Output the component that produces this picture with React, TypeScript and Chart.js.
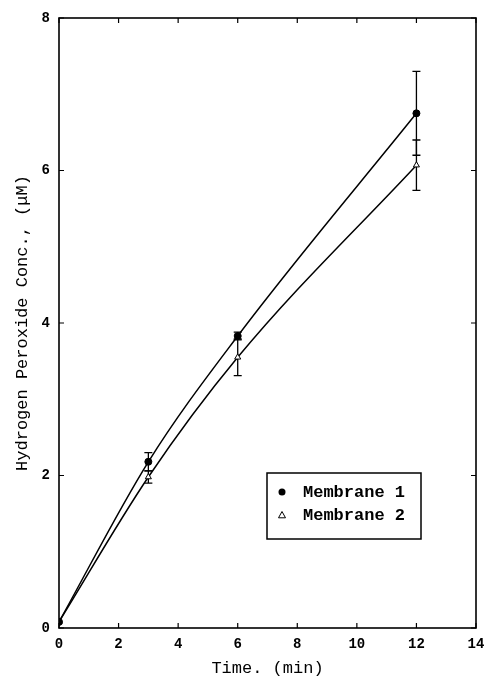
import React, { useEffect, useRef } from "react";
import { Chart, registerables } from "chart.js";

Chart.register(...registerables);

const timeMin = [0, 3, 6, 12];
const membrane1 = [0.08, 2.18, 3.83, 6.75];
const membrane1Err = [0, 0.12, 0.05, 0.55];
const membrane2 = [0.08, 1.98, 3.55, 6.07];
const membrane2Err = [0, 0.08, 0.24, 0.33];
const seriesLabels = ["Membrane 1", "Membrane 2"];
const xTitle = "Time. (min)";
const yTitle = "Hydrogen Peroxide Conc., (\u03BCM)";

const MONO = "'Liberation Mono', 'DejaVu Sans Mono', monospace";

const errorBarPlugin = {
  id: "errorBars",
  beforeDatasetsDraw(chart: any) {
    const ctx = chart.ctx;
    const xs = chart.scales.x;
    const ys = chart.scales.y;
    ctx.save();
    ctx.strokeStyle = "#000";
    ctx.lineWidth = 1.3;
    chart.data.datasets.forEach((ds: any) => {
      const errs: number[] = ds.errors || [];
      ds.data.forEach((p: any, i: number) => {
        const e = errs[i];
        if (!e) return;
        const px = xs.getPixelForValue(p.x);
        const y1 = ys.getPixelForValue(p.y + e);
        const y2 = ys.getPixelForValue(p.y - e);
        ctx.beginPath();
        ctx.moveTo(px, y1);
        ctx.lineTo(px, y2);
        ctx.moveTo(px - 4, y1);
        ctx.lineTo(px + 4, y1);
        ctx.moveTo(px - 4, y2);
        ctx.lineTo(px + 4, y2);
        ctx.stroke();
      });
    });
    ctx.restore();
  },
};

const frameTicksPlugin = {
  id: "frameTicks",
  afterDraw(chart: any) {
    const ctx = chart.ctx;
    const { left, right, top, bottom } = chart.chartArea;
    const xs = chart.scales.x;
    const ys = chart.scales.y;
    ctx.save();
    ctx.strokeStyle = "#000";
    ctx.lineWidth = 1.6;
    ctx.strokeRect(left, top, right - left, bottom - top);
    ctx.lineWidth = 1.2;
    const tl = 5;
    ys.ticks.forEach((t: any) => {
      const py = ys.getPixelForValue(t.value);
      ctx.beginPath();
      ctx.moveTo(left, py);
      ctx.lineTo(left + tl, py);
      ctx.moveTo(right, py);
      ctx.lineTo(right - tl, py);
      ctx.stroke();
    });
    xs.ticks.forEach((t: any) => {
      const px = xs.getPixelForValue(t.value);
      ctx.beginPath();
      ctx.moveTo(px, bottom);
      ctx.lineTo(px, bottom - tl);
      ctx.moveTo(px, top);
      ctx.lineTo(px, top + tl);
      ctx.stroke();
    });
    ctx.restore();
  },
};

const legendBoxPlugin = {
  id: "legendBox",
  afterDraw(chart: any) {
    const ctx = chart.ctx;
    const bx = 267;
    const by = 473;
    const bw = 154;
    const bh = 66;
    ctx.save();
    ctx.fillStyle = "#fff";
    ctx.fillRect(bx, by, bw, bh);
    ctx.strokeStyle = "#000";
    ctx.lineWidth = 1.5;
    ctx.strokeRect(bx, by, bw, bh);
    ctx.font = `bold 17px ${MONO}`;
    ctx.textBaseline = "middle";
    ctx.textAlign = "left";
    chart.data.datasets.forEach((ds: any, i: number) => {
      const cy = by + 19 + i * 23;
      const mx = bx + 15;
      ctx.lineWidth = 1;
      if (ds.pointStyle === "triangle") {
        const r = 3.5;
        ctx.beginPath();
        ctx.moveTo(mx, cy - r);
        ctx.lineTo(mx + r, cy + r * 0.8);
        ctx.lineTo(mx - r, cy + r * 0.8);
        ctx.closePath();
        ctx.fillStyle = "#fff";
        ctx.fill();
        ctx.stroke();
      } else {
        ctx.beginPath();
        ctx.arc(mx, cy, 3.5, 0, Math.PI * 2);
        ctx.fillStyle = "#000";
        ctx.fill();
      }
      ctx.fillStyle = "#000";
      ctx.fillText(ds.label, bx + 36, cy + 1);
    });
    ctx.restore();
  },
};

export default function App() {
  const canvasRef = useRef<HTMLCanvasElement | null>(null);

  useEffect(() => {
    const canvas = canvasRef.current;
    if (!canvas) return;
    const chart = new Chart(canvas, {
      type: "line",
      data: {
        datasets: [
          {
            label: seriesLabels[0],
            data: timeMin.map((t, i) => ({ x: t, y: membrane1[i] })),
            errors: membrane1Err,
            borderColor: "#000",
            borderWidth: 1.5,
            backgroundColor: "#000",
            pointStyle: "circle",
            pointRadius: 3.5,
            pointBorderWidth: 1,
            pointBackgroundColor: "#000",
            pointBorderColor: "#000",
            cubicInterpolationMode: "monotone",
            fill: false,
          } as any,
          {
            label: seriesLabels[1],
            data: timeMin.map((t, i) => ({ x: t, y: membrane2[i] })),
            errors: membrane2Err,
            borderColor: "#000",
            borderWidth: 1.5,
            backgroundColor: "#fff",
            pointStyle: "triangle",
            pointRadius: 3.5,
            pointBorderWidth: 1,
            pointBackgroundColor: "#fff",
            pointBorderColor: "#000",
            cubicInterpolationMode: "monotone",
            fill: false,
          } as any,
        ],
      },
      options: {
        responsive: false,
        animation: false,
        layout: { padding: { left: 0, top: 18, right: 11, bottom: 0 } },
        plugins: {
          legend: { display: false },
          tooltip: { enabled: false },
        },
        scales: {
          x: {
            type: "linear",
            min: 0,
            max: 14,
            grid: { display: false, drawTicks: false, tickLength: 0 },
            border: { display: false },
            ticks: {
              stepSize: 2,
              padding: 8,
              color: "#000",
              font: { family: MONO, size: 14, weight: "bold" },
              maxRotation: 0,
            },
            title: {
              display: true,
              text: xTitle,
              color: "#000",
              padding: { top: 0, bottom: 0 },
              font: { family: MONO, size: 17 },
            },
            afterFit: (s: any) => {
              s.height = 51;
              s.paddingLeft = 0;
              s.paddingRight = 0;
            },
          },
          y: {
            type: "linear",
            min: 0,
            max: 8,
            grid: { display: false, drawTicks: false, tickLength: 0 },
            border: { display: false },
            ticks: {
              stepSize: 2,
              padding: 9,
              color: "#000",
              font: { family: MONO, size: 14, weight: "bold" },
            },
            title: {
              display: true,
              text: yTitle,
              color: "#000",
              padding: { top: 12, bottom: 0 },
              font: { family: MONO, size: 17 },
            },
            afterFit: (s: any) => {
              s.width = 59;
              s.paddingTop = 0;
              s.paddingBottom = 0;
            },
          },
        },
      } as any,
      plugins: [errorBarPlugin, frameTicksPlugin, legendBoxPlugin],
    });
    return () => chart.destroy();
  }, []);

  return (
    <div style={{ position: "absolute", left: 0, top: 0, width: 487, height: 679, background: "#fff" }}>
      <canvas ref={canvasRef} width={487} height={679} style={{ display: "block" }} />
    </div>
  );
}
